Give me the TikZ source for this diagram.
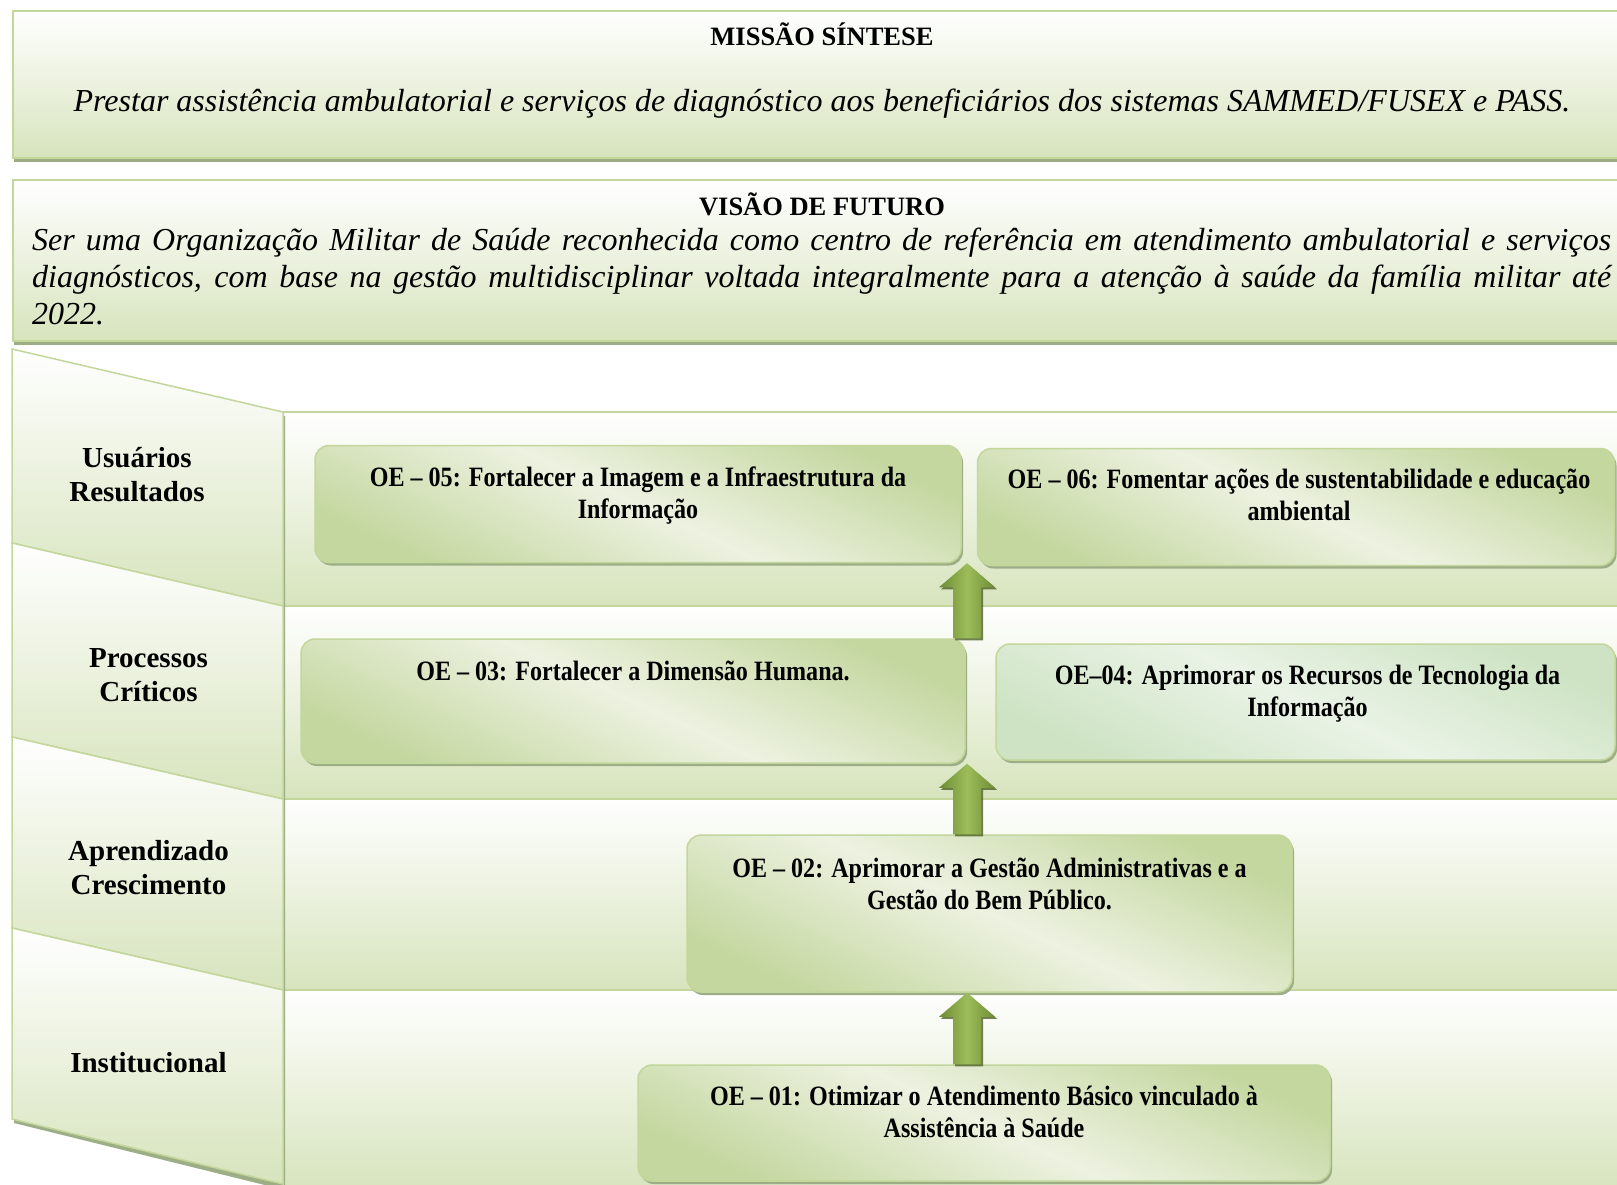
\documentclass[tikz,border=0pt]{standalone}
\usepackage{fontspec}
\setmainfont{Liberation Serif}
\newfontfamily\oefont{Liberation Serif}[FakeStretch=0.86]
\usetikzlibrary{shadows,calc}
\definecolor{bandg}{HTML}{D7E4BD}
\definecolor{edgeg}{HTML}{C3D69B}
\definecolor{shadg}{HTML}{9DAE86}
\definecolor{boxdark}{HTML}{C4D79F}
\definecolor{boxlight}{HTML}{EDF2E1}
\definecolor{boxdarkb}{HTML}{CDE3C3}
\definecolor{boxlightb}{HTML}{EAF3E6}
\definecolor{arrdark}{HTML}{6E8B34}
\definecolor{arrlight}{HTML}{9DBD5A}
\definecolor{arrshad}{HTML}{4F6228}
\tikzset{
  banner/.style={draw=edgeg, line width=2pt, top color=white, bottom color=bandg,
    drop shadow={shadow xshift=1pt, shadow yshift=-4pt, fill=shadg, opacity=1}},
  lband/.style={draw=edgeg, line width=1.5pt, top color=white, bottom color=bandg},
  shadowfill/.style={fill=shadg},
  oebox/.style={rounded corners=14pt, draw=edgeg, line width=1.5pt,
    top color=boxdark, bottom color=boxdark, middle color=boxlight, shading angle=-25,
    drop shadow={shadow xshift=2pt, shadow yshift=-3pt, fill=shadg, opacity=1}},
  oeboxb/.style={oebox, top color=boxdarkb, bottom color=boxdarkb, middle color=boxlightb, shading angle=-25},
  oetext/.style={font=\oefont\bfseries\fontsize{28}{32}\selectfont, align=center, inner sep=0pt},
  lbl/.style={font=\bfseries\fontsize{29}{34}\selectfont, align=center, inner sep=0pt},
  head/.style={font=\bfseries\fontsize{26.5}{30}\selectfont, inner sep=0pt, anchor=base},
  body/.style={font=\itshape\fontsize{32}{37}\selectfont, inner sep=0pt},
  arrowsty/.style={left color=arrdark, right color=arrdark, middle color=arrlight,
    drop shadow={shadow xshift=2pt, shadow yshift=-2pt, fill=arrshad, opacity=0.8}}
}
\newcommand\blockarrow[2]{%
  \path[arrowsty] let \p1=(#1), \p2=(#2) in
    (\x1-14pt,\y1) -- (\x1-14pt,\y2-24pt) -- (\x1-28pt,\y2-24pt) -- (\x1,\y2)
    -- (\x1+28pt,\y2-24pt) -- (\x1+14pt,\y2-24pt) -- (\x1+14pt,\y1) -- cycle;}
\begin{document}
\begin{tikzpicture}[x=1pt,y=-1pt]
\useasboundingbox (0,0) rectangle (1617,1184);
\clip (0,0) rectangle (1617,1184);
\fill[white] (0,0) rectangle (1617,1184);

% mission
\node[banner, anchor=north west, minimum width=1630pt, minimum height=147pt, inner sep=0pt] (missao) at (12,10) {};
\node[head] (missaoT) at (822,45) {MISSÃO SÍNTESE};
\node[body, anchor=base] (missaoB) at (822,111) {Prestar assistência ambulatorial e serviços de diagnóstico aos beneficiários dos sistemas SAMMED/FUSEX e PASS.};

% vision
\node[banner, anchor=north west, minimum width=1630pt, minimum height=161pt, inner sep=0pt] (visao) at (12,179) {};
\node[head] (visaoT) at (822,215) {VISÃO DE FUTURO};
\node[body, anchor=north west, text width=1579pt, align=justify] (visaoB) at (32,228)
 {Ser uma Organização Militar de Saúde reconhecida como centro de referência em atendimento ambulatorial e serviços\linebreak
 diagnósticos, com base na gestão multidisciplinar voltada integralmente para a atenção à saúde da família militar até\linebreak 2022.};

% right bands
\path[shadowfill] (285,416) rectangle (1640,1190);
\path[lband] (283,412) rectangle (1640,606);
\path[lband] (283,606) rectangle (1640,799);
\path[lband] (283,799) rectangle (1640,990);
\path[lband] (283,990) rectangle (1640,1190);

% left panel
\path[shadowfill] (14,353) -- (285,416) -- (285,1190) -- (14,1123) -- cycle;
\path[lband] (12,349) -- (283,412) -- (283,606) -- (12,543) -- cycle;
\path[lband] (12,543) -- (283,606) -- (283,799) -- (12,737) -- cycle;
\path[lband] (12,737) -- (283,799) -- (283,990) -- (12,928) -- cycle;
\path[lband] (12,928) -- (283,990) -- (283,1184) -- (12,1119) -- cycle;

\node[lbl] (usr) at (137,475) {Usuários\\Resultados};
\node[lbl] (proc) at (148.5,675) {Processos\\Críticos};
\node[lbl] (apr) at (148.5,868) {Aprendizado\\Crescimento};
\node[lbl] (inst) at (148.5,1063) {Institucional};

% objective boxes
\node[oebox, minimum width=646pt, minimum height=117pt, inner sep=0pt] (oe05) at (638,504) {};
\node[oetext] (t05) at ($(oe05.north)+(0,51)$) {OE – 05: Fortalecer a Imagem e a Infraestrutura da\\Informação};
\node[oebox, minimum width=637pt, minimum height=117pt, inner sep=0pt] (oe06) at (1296,507) {};
\node[oetext] (t06) at ($(oe06.north)+(3,47)$) {OE – 06: Fomentar ações de sustentabilidade e educação\\ambiental};
\node[oebox, minimum width=664pt, minimum height=124pt, inner sep=0pt] (oe03) at (633,701) {};
\node[oetext] (t03) at ($(oe03.north)+(0,33)$) {OE – 03: Fortalecer a Dimensão Humana.};
\node[oeboxb, minimum width=619pt, minimum height=116pt, inner sep=0pt] (oe04) at (1305.5,702) {};
\node[oetext] (t04) at ($(oe04.north)+(2,50)$) {OE–04: Aprimorar os Recursos de Tecnologia da\\Informação};
\node[oebox, minimum width=605pt, minimum height=157pt, inner sep=0pt] (oe02) at (989.5,913.5) {};
\node[oetext] (t02) at ($(oe02.north)+(0,50)$) {OE – 02: Aprimorar a Gestão Administrativas e a\\Gestão do Bem Público.};
\node[oebox, minimum width=692pt, minimum height=116pt, inner sep=0pt] (oe01) at (984,1123) {};
\node[oetext] (t01) at ($(oe01.north)+(0,48)$) {OE – 01: Otimizar o Atendimento Básico vinculado à\\Assistência à Saúde};

% arrows
\coordinate (ax) at (967,0);
\blockarrow{oe03.north -| ax}{oe05.south -| ax}
\blockarrow{oe02.north -| ax}{oe03.south -| ax}
\blockarrow{oe01.north -| ax}{oe02.south -| ax}
\end{tikzpicture}
\end{document}
